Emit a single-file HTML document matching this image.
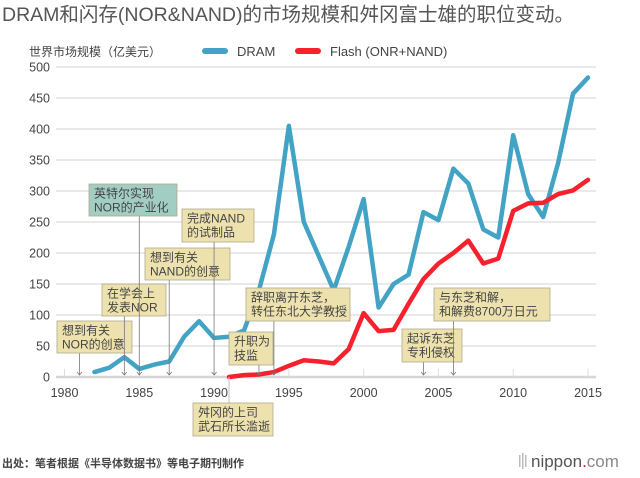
<!DOCTYPE html>
<html><head><meta charset="utf-8">
<style>
html,body{margin:0;padding:0;background:#fff;}
body{width:640px;height:473px;overflow:hidden;font-family:"Liberation Sans","Noto Sans CJK SC",sans-serif;}
svg text{font-family:"Liberation Sans","Noto Sans CJK SC",sans-serif;}
</style></head>
<body>
<svg id="chart" width="640" height="473" viewBox="0 0 640 473">
<text x="2" y="21" font-size="19.5" fill="#555">DRAM和闪存(NOR&amp;NAND)的市场规模和舛冈富士雄的职位变动。</text>
<text x="29" y="56" font-size="12" fill="#444">世界市场规模（亿美元）</text>
<g>
<line x1="205" y1="51" x2="225" y2="51" stroke="#42a3c4" stroke-width="6" stroke-linecap="round"/>
<text x="237" y="56" font-size="13" fill="#444">DRAM</text>
<line x1="298" y1="51" x2="318" y2="51" stroke="#f5222d" stroke-width="6" stroke-linecap="round"/>
<text x="330" y="56" font-size="13" fill="#444">Flash (ONR+NAND)</text>
</g>
<g id="grid"></g>
<g id="xaxis"></g>
<g id="series"></g>
<g id="ann"></g>
<text x="2" y="467" font-size="11" font-weight="bold" fill="#444">出处：笔者根据《半导体数据书》等电子期刊制作</text>
<g>
<rect x="519" y="455" width="1.5" height="12" fill="#bbb"/><rect x="522" y="453" width="1.5" height="16" fill="#bbb"/><rect x="525" y="455" width="1.5" height="12" fill="#bbb"/>
<text x="531" y="467" font-size="17" fill="#555">nippon<tspan fill="#e60012">.</tspan><tspan fill="#888">com</tspan></text>
</g>
</svg>
<script>
const years = [1982,1983,1984,1985,1986,1987,1988,1989,1990,1991,1992,1993,1994,1995,1996,1997,1998,1999,2000,2001,2002,2003,2004,2005,2006,2007,2008,2009,2010,2011,2012,2013,2014,2015];
const dramValues = [8,15,32,13,20,25,65,90,63,65,75,140,230,405,250,195,140,210,287,112,150,165,266,253,336,312,238,225,390,295,258,345,457,483];
const flashYears = [1991,1992,1993,1994,1995,1996,1997,1998,1999,2000,2001,2002,2003,2004,2005,2006,2007,2008,2009,2010,2011,2012,2013,2014,2015];
const flashValues = [0,3,4,8,18,27,25,22,45,103,74,76,118,158,183,200,220,183,191,268,280,281,295,301,318];
const yTicks = [0,50,100,150,200,250,300,350,400,450,500];
const xTicks = [1980,1985,1990,1995,2000,2005,2010,2015];
const annText = [["想到有关","NOR的创意"],["在学会上","发表NOR"],["英特尔实现","NOR的产业化"],["想到有关","NAND的创意"],["完成NAND","的试制品"],["舛冈的上司","武石所长滥逝"],["升职为","技监"],["辞职离开东芝，","转任东北大学教授"],["起诉东芝","专利侵权"],["与东芝和解，","和解费8700万日元"]];
const annYears = [1981,1984,1985,1987,1990,1991,1993,1994,2004,2006];

const NS="http://www.w3.org/2000/svg";
const X=y=>64.5+(y-1980)*(588-64.5)/35;
const Y=v=>377-v*0.62;
function mk(tag,attrs,parent){const e=document.createElementNS(NS,tag);for(const k in attrs)e.setAttribute(k,attrs[k]);parent.appendChild(e);return e;}
const grid=document.getElementById('grid');
yTicks.forEach(t=>{
  const l=mk('line',{x1:56,x2:596,y1:Y(t),y2:Y(t),stroke:t===0?'#d6d6d6':'#dcdcdc','stroke-width':t===0?2.5:1.2},grid);
  
  
  const tx=mk('text',{x:50,y:Y(t)+4.5,'text-anchor':'end','font-size':12.5,fill:'#444'},grid);
  tx.textContent=t;
  
  
});
const xa=document.getElementById('xaxis');
xTicks.forEach(t=>{
  const l=mk('line',{x1:X(t),x2:X(t),y1:Y(0)-8,y2:Y(0),stroke:'#ddd','stroke-width':1},xa);
  
  
  const tx=mk('text',{x:X(t),y:397,'text-anchor':'middle','font-size':12.5,fill:'#444'},xa);
  tx.textContent=t;
  
  
});
const ser=document.getElementById('series');
function line(xs,vs,color,name){
  const p=mk('polyline',{points:xs.map((x,i)=>X(x)+','+Y(vs[i])).join(' '),fill:'none',stroke:color,'stroke-width':4.5,'stroke-linejoin':'round','stroke-linecap':'round'},ser);
  
  
}
line(years,dramValues,'#42a3c4','dram-line');
line(flashYears,flashValues,'#f5222d','flash-line');
const boxes=[[57,321,75,32],[102,284,64,32],[89,184,88,32,1],[145,248,85,32],[182,209,72,33],[193,403,80,33],[229,332,44,33],[246,288,104,33],[402,329,60,33],[434,288,116,33]];
const ann=document.getElementById('ann');
annYears.forEach((yr,i)=>{
  const b=boxes[i];const x=X(yr);
  const g=mk('g',{},ann);
  
  
  if(b[1]>377){
    mk('line',{x1:x,x2:x,y1:Y(0),y2:b[1],stroke:'#ccc','stroke-width':1.2},g);
  } else {
    mk('line',{x1:x,x2:x,y1:b[1]+b[3],y2:Y(0)-2,stroke:'#777','stroke-width':0.8},g);
    mk('path',{d:`M${x-2.5},${Y(0)-5} L${x},${Y(0)-2} L${x+2.5},${Y(0)-5}`,fill:'none',stroke:'#777','stroke-width':0.8},g);
  }
  mk('rect',{x:b[0],y:b[1],width:b[2],height:b[3],fill:b[4]?'#a2cdc3':'#ede2ae',stroke:'#b0a98a','stroke-width':0.8},g);
  annText[i].forEach((s,j)=>{const t=mk('text',{x:b[0]+5,y:b[1]+13.5+j*14,'font-size':12,fill:'#444'},g);t.textContent=s;});
});
</script>
</body></html>
